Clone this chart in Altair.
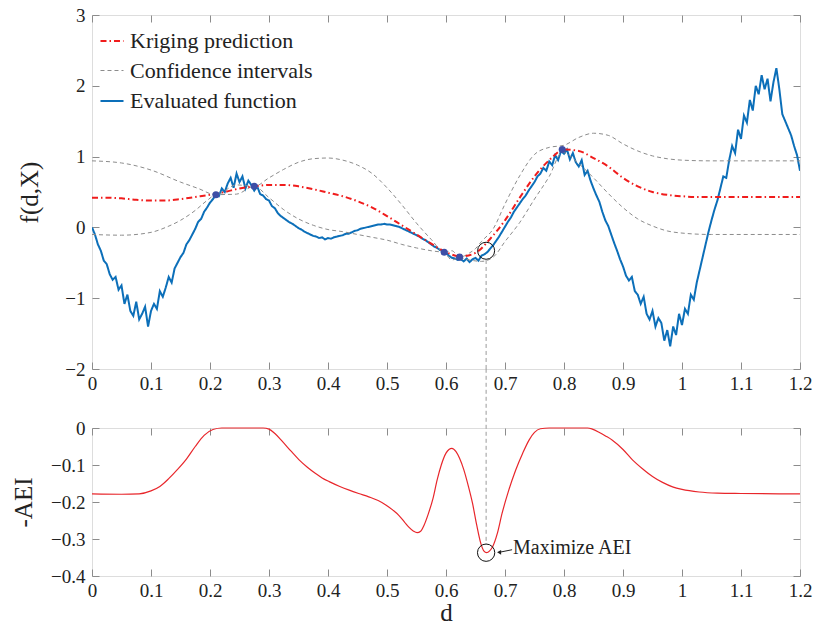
import altair as alt
import pandas as pd

FONT = "Liberation Serif"

# ---------------- data ----------------
x_ticks = [0, 0.1, 0.2, 0.3, 0.4, 0.5, 0.6, 0.7, 0.8, 0.9, 1.0, 1.1, 1.2]
y_ticks_top = [-2, -1, 0, 1, 2, 3]
y_ticks_bottom = [-0.4, -0.3, -0.2, -0.1, 0]

series_names = ["Kriging prediction", "Confidence intervals", "Evaluated function"]
series_colors = ["#f01c1c", "#8c8c8c", "#0c6fb9"]
series_dashes = [[6, 3, 1.5, 3], [4, 3], [1, 0]]
series_widths = [2.0, 1.0, 2.0]

# evaluated (noisy) function, sampled every 0.005 from d = 0 to 1.2
eval_step = 0.005
eval_values = [
    0.00, -0.10, -0.24, -0.33, -0.47, -0.52, -0.66, -0.74, -0.70, -0.88,
    -0.82, -1.08, -0.95, -1.18, -1.25, -1.05, -1.30, -1.22, -1.12, -1.40,
    -1.18, -1.08, -1.15, -0.90, -0.98, -0.85, -0.70, -0.78, -0.58, -0.50,
    -0.42, -0.36, -0.24, -0.18, -0.10, -0.02, 0.08, 0.12, 0.22, 0.28,
    0.35, 0.40, 0.46, 0.44, 0.55, 0.50, 0.62, 0.70, 0.56, 0.76,
    0.64, 0.72, 0.55, 0.66, 0.60, 0.52, 0.58, 0.47, 0.45, 0.40,
    0.38, 0.30, 0.27, 0.20, 0.16, 0.13, 0.10, 0.07, 0.05, 0.02,
    -0.01, -0.03, -0.06, -0.08, -0.10, -0.12, -0.13, -0.15, -0.14, -0.17,
    -0.15, -0.16, -0.14, -0.13, -0.12, -0.11, -0.09, -0.09, -0.07, -0.05,
    -0.04, -0.02, -0.01, 0.00, 0.01, 0.02, 0.03, 0.04, 0.04, 0.05,
    0.04, 0.04, 0.03, 0.02, 0.01, -0.01, -0.03, -0.05, -0.07, -0.09,
    -0.11, -0.13, -0.16, -0.18, -0.21, -0.24, -0.27, -0.29, -0.32, -0.34,
    -0.36, -0.40, -0.43, -0.44, -0.46, -0.45, -0.48, -0.44, -0.49, -0.45,
    -0.43, -0.47, -0.40, -0.38, -0.35, -0.30, -0.25, -0.19, -0.13, -0.06,
    0.01, 0.08, 0.14, 0.22, 0.28, 0.34, 0.40, 0.45, 0.52, 0.58,
    0.64, 0.72, 0.76, 0.84, 0.80, 0.93, 0.88, 1.02, 0.95, 1.08,
    1.04, 1.10, 0.96, 1.05, 0.92, 0.86, 0.95, 0.74, 0.80, 0.66,
    0.55, 0.45, 0.36, 0.22, 0.10, 0.02, -0.10, -0.22, -0.33, -0.45,
    -0.55, -0.68, -0.75, -0.70, -0.90, -0.95, -1.08, -0.98, -1.22, -1.30,
    -1.18, -1.40, -1.28, -1.35, -1.60, -1.45, -1.68, -1.40, -1.52, -1.22,
    -1.38, -1.15, -1.22, -0.95, -1.02, -0.78, -0.60, -0.42, -0.24, -0.06,
    0.10, 0.25, 0.38, 0.55, 0.72, 0.70, 0.95, 1.15, 1.05, 1.38,
    1.25, 1.58, 1.48, 1.80, 1.65, 2.00, 1.88, 2.15, 1.95, 2.10,
    1.78, 2.05, 2.25, 1.95, 1.60, 1.50, 1.40, 1.30, 1.15, 1.02,
    0.80,
]

krig_d = [0.0, 0.025, 0.05, 0.075, 0.1, 0.125, 0.15, 0.175, 0.2, 0.225, 0.25, 0.275,
          0.3, 0.325, 0.35, 0.375, 0.4, 0.425, 0.45, 0.475, 0.5, 0.525, 0.55, 0.575,
          0.6, 0.625, 0.65, 0.675, 0.7, 0.725, 0.75, 0.775, 0.8, 0.825, 0.85, 0.875,
          0.9, 0.925, 0.95, 0.975, 1.0, 1.025, 1.05, 1.1, 1.15, 1.2]
krig_v = [0.42, 0.42, 0.41, 0.39, 0.38, 0.38, 0.40, 0.43, 0.46, 0.50, 0.55, 0.58,
          0.60, 0.60, 0.58, 0.54, 0.49, 0.44, 0.37, 0.28, 0.16, 0.03, -0.10, -0.23,
          -0.35, -0.41, -0.36, -0.16, 0.10, 0.42, 0.72, 0.95, 1.10, 1.08, 0.98, 0.86,
          0.70, 0.58, 0.50, 0.46, 0.44, 0.43, 0.43, 0.43, 0.43, 0.43]

upper_d = [0.0, 0.05, 0.1, 0.15, 0.18, 0.21, 0.245, 0.275, 0.3, 0.325, 0.35, 0.375,
           0.4, 0.425, 0.45, 0.475, 0.5, 0.525, 0.55, 0.575, 0.597, 0.61, 0.623, 0.64,
           0.65, 0.66, 0.68, 0.7, 0.725, 0.75, 0.775, 0.8, 0.825, 0.85, 0.875, 0.9,
           0.925, 0.95, 0.975, 1.0, 1.05, 1.2]
upper_v = [0.94, 0.91, 0.81, 0.64, 0.55, 0.46, 0.60, 0.58, 0.70, 0.82, 0.92, 0.97,
           0.98, 0.95, 0.88, 0.76, 0.56, 0.32, 0.06, -0.17, -0.35, -0.33, -0.42, -0.36,
           -0.30, -0.20, -0.02, 0.33, 0.73, 1.03, 1.13, 1.16, 1.27, 1.33, 1.30, 1.18,
           1.08, 1.01, 0.97, 0.95, 0.94, 0.94]

lower_d = [0.0, 0.05, 0.1, 0.125, 0.15, 0.175, 0.195, 0.21, 0.245, 0.275, 0.3, 0.325,
           0.35, 0.375, 0.4, 0.425, 0.45, 0.475, 0.5, 0.525, 0.55, 0.575, 0.597, 0.61,
           0.623, 0.64, 0.66, 0.68, 0.7, 0.725, 0.75, 0.775, 0.797, 0.825, 0.85, 0.875,
           0.9, 0.925, 0.95, 0.975, 1.0, 1.05, 1.2]
lower_v = [-0.10, -0.11, -0.07, 0.00, 0.10, 0.24, 0.38, 0.46, 0.47, 0.58, 0.42, 0.25,
           0.12, 0.03, -0.03, -0.06, -0.10, -0.14, -0.18, -0.24, -0.29, -0.33, -0.36, -0.46,
           -0.43, -0.46, -0.48, -0.42, -0.20, 0.07, 0.40, 0.72, 1.06, 0.90, 0.70, 0.48,
           0.28, 0.12, 0.02, -0.05, -0.08, -0.10, -0.10]

obs_d = [0.21, 0.275, 0.597, 0.623, 0.797]
obs_v = [0.46, 0.58, -0.35, -0.42, 1.10]

aei_d = [0.0, 0.05, 0.08, 0.1, 0.115, 0.13, 0.145, 0.16, 0.175, 0.19, 0.205, 0.22,
         0.29, 0.3, 0.31, 0.323, 0.337, 0.351, 0.365, 0.379, 0.39, 0.402, 0.42, 0.436,
         0.452, 0.469, 0.485, 0.498, 0.51, 0.52, 0.53, 0.537, 0.545, 0.551, 0.557, 0.563,
         0.57, 0.578, 0.585, 0.592, 0.6, 0.605, 0.61, 0.617, 0.623, 0.63, 0.638, 0.645,
         0.652, 0.659, 0.664, 0.669, 0.674, 0.679, 0.687, 0.695, 0.706, 0.718, 0.73, 0.741,
         0.75, 0.76, 0.775, 0.84, 0.848, 0.86, 0.871, 0.882, 0.9, 0.916, 0.933, 0.95,
         0.967, 0.984, 1.0, 1.029, 1.06, 1.1, 1.2]
aei_v = [-0.178, -0.179, -0.178, -0.170, -0.158, -0.137, -0.112, -0.084, -0.050, -0.020, -0.004, 0.0,
         0.0, -0.003, -0.015, -0.037, -0.062, -0.086, -0.106, -0.123, -0.135, -0.145, -0.158, -0.168,
         -0.177, -0.186, -0.196, -0.208, -0.222, -0.236, -0.255, -0.268, -0.279, -0.283, -0.279, -0.262,
         -0.232, -0.190, -0.140, -0.100, -0.068, -0.058, -0.055, -0.064, -0.082, -0.112, -0.158, -0.204,
         -0.262, -0.312, -0.332, -0.337, -0.332, -0.321, -0.285, -0.231, -0.170, -0.114, -0.068, -0.032,
         -0.012, -0.002, 0.0, 0.0, -0.003, -0.012, -0.022, -0.033, -0.058, -0.086, -0.110, -0.131,
         -0.147, -0.159, -0.166, -0.173, -0.176, -0.177, -0.178]

select_d = 0.668
select_top_v = -0.33
select_top_line = [-0.46, -2.0]
select_bottom_v = -0.337
select_bottom_line = [0.16, -0.315]
note_text = "Maximize AEI"
note_d, note_v = 0.7136, -0.324
arrow_d = [0.712, 0.690]
arrow_v = [-0.329, -0.336]

# ---------------- frames ----------------
df_eval = pd.DataFrame({"d": [round(i * eval_step, 3) for i in range(len(eval_values))],
                        "v": eval_values, "series": series_names[2]})
df_krig = pd.DataFrame({"d": krig_d, "v": krig_v, "series": series_names[0]})
df_ci = pd.concat([
    pd.DataFrame({"d": upper_d, "v": upper_v, "part": "upper"}),
    pd.DataFrame({"d": lower_d, "v": lower_v, "part": "lower"}),
])
df_ci["series"] = series_names[1]
df_obs = pd.DataFrame({"d": obs_d, "v": obs_v})
df_sel_top = pd.DataFrame({"d": [select_d], "v": [select_top_v],
                           "y1": [select_top_line[0]], "y2": [select_top_line[1]]})
df_sel_bot = pd.DataFrame({"d": [select_d], "v": [select_bottom_v],
                           "y1": [select_bottom_line[0]], "y2": [select_bottom_line[1]]})
df_note = pd.DataFrame({"d": [note_d], "v": [note_v], "t": [note_text]})
df_arrow = pd.DataFrame({"d": arrow_d, "v": arrow_v})
df_head = df_arrow.iloc[[1]]
df_aei = pd.DataFrame({"d": aei_d, "v": aei_v})

# ---------------- scales / axes ----------------
xs = alt.Scale(domain=[0, 1.2], nice=False, zero=False)
ys_top = alt.Scale(domain=[-2, 3], nice=False, zero=False)
ys_bot = alt.Scale(domain=[-0.4, 0], nice=False, zero=False)

color_scale = alt.Scale(domain=series_names, range=series_colors)
dash_scale = alt.Scale(domain=series_names, range=series_dashes)
width_scale = alt.Scale(type="ordinal", domain=series_names, range=series_widths)

legend = alt.Legend(orient="none", legendX=7, legendY=13, symbolType="stroke",
                    symbolSize=530, labelFont=FONT, labelFontSize=22, labelColor="#222",
                    labelOffset=5, rowPadding=6, padding=0, labelLimit=400)


def series_enc():
    return dict(
        color=alt.Color("series:N", scale=color_scale, legend=legend, title=None),
        strokeDash=alt.StrokeDash("series:N", scale=dash_scale, legend=legend, title=None),
        strokeWidth=alt.StrokeWidth("series:N", scale=width_scale, legend=legend, title=None),
    )


def label_axis(orient, values, title=None, title_pad=0):
    kw = dict(orient=orient, values=values, format="~g", ticks=False, domain=False,
              grid=False, labelFont=FONT, labelFontSize=19, labelColor="#222",
              labelFlush=False, labelOverlap=False,
              labelPadding=5 if orient == "bottom" else 7)
    if title is not None:
        kw.update(title=title, titleFont=FONT, titleFontSize=25, titleFontWeight="normal",
                  titleColor="#222", titlePadding=title_pad)
    else:
        kw.update(title=None)
    return alt.Axis(**kw)


def tick_axis(orient, values):
    return alt.Axis(orient=orient, values=values, labels=False, domain=False, grid=False,
                    ticks=True, tickSize=7, tickColor="#8c8c8c", tickWidth=1, offset=-7,
                    title=None)


# ---------------- top panel ----------------
blue = alt.Chart(df_eval).mark_line(clip=True).encode(
    x=alt.X("d:Q", scale=xs, axis=label_axis("bottom", x_ticks)),
    y=alt.Y("v:Q", scale=ys_top, axis=label_axis("left", y_ticks_top, "f(d,X)", 22)),
    **series_enc(),
)
ci = alt.Chart(df_ci).mark_line(clip=True, interpolate="monotone").encode(
    x=alt.X("d:Q", scale=xs, axis=tick_axis("bottom", x_ticks)),
    y=alt.Y("v:Q", scale=ys_top, axis=tick_axis("left", y_ticks_top)),
    detail="part:N",
    **series_enc(),
)
krig = alt.Chart(df_krig).mark_line(clip=True, interpolate="monotone").encode(
    x=alt.X("d:Q", scale=xs, axis=tick_axis("top", x_ticks)),
    y=alt.Y("v:Q", scale=ys_top, axis=tick_axis("right", y_ticks_top)),
    **series_enc(),
)
dots = alt.Chart(df_obs).mark_circle(size=50, color="#3d4ea6", opacity=1).encode(
    x=alt.X("d:Q", scale=xs, axis=None),
    y=alt.Y("v:Q", scale=ys_top, axis=None),
)
vline_top = alt.Chart(df_sel_top).mark_rule(color="#9a9a9a", strokeDash=[4, 3], strokeWidth=1).encode(
    x=alt.X("d:Q", scale=xs, axis=None),
    y=alt.Y("y1:Q", scale=ys_top, axis=None),
    y2="y2:Q",
)
circ_top = alt.Chart(df_sel_top).mark_point(shape="circle", filled=False, color="#111",
                                            strokeWidth=1, size=290, opacity=1).encode(
    x=alt.X("d:Q", scale=xs, axis=None),
    y=alt.Y("v:Q", scale=ys_top, axis=None),
)

top = alt.layer(blue, ci, krig, dots, vline_top, circ_top).resolve_axis(
    x="independent", y="independent"
).properties(width=708, height=354)

# ---------------- bottom panel ----------------
aei = alt.Chart(df_aei).mark_line(color="#e8262b", strokeWidth=1.2, interpolate="monotone").encode(
    x=alt.X("d:Q", scale=xs, axis=label_axis("bottom", x_ticks, "d", 0)),
    y=alt.Y("v:Q", scale=ys_bot, axis=label_axis("left", y_ticks_bottom, "-AEI", 14)),
)
vline_bot = alt.Chart(df_sel_bot).mark_rule(color="#9a9a9a", strokeDash=[4, 3], strokeWidth=1,
                                            clip=False).encode(
    x=alt.X("d:Q", scale=xs, axis=tick_axis("bottom", x_ticks)),
    y=alt.Y("y1:Q", scale=ys_bot, axis=tick_axis("left", y_ticks_bottom)),
    y2="y2:Q",
)
circ_bot = alt.Chart(df_sel_bot).mark_point(shape="circle", filled=False, color="#111",
                                            strokeWidth=1, size=300, opacity=1).encode(
    x=alt.X("d:Q", scale=xs, axis=tick_axis("top", x_ticks)),
    y=alt.Y("v:Q", scale=ys_bot, axis=tick_axis("right", y_ticks_bottom)),
)
arrow = alt.Chart(df_arrow).mark_line(color="#222", strokeWidth=1).encode(
    x=alt.X("d:Q", scale=xs, axis=None),
    y=alt.Y("v:Q", scale=ys_bot, axis=None),
)
head = alt.Chart(df_head).mark_point(shape="triangle-left", filled=True, color="#222",
                                     size=22, opacity=1).encode(
    x=alt.X("d:Q", scale=xs, axis=None),
    y=alt.Y("v:Q", scale=ys_bot, axis=None),
)
note = alt.Chart(df_note).mark_text(align="left", baseline="middle", font=FONT,
                                    fontSize=20, color="#222").encode(
    x=alt.X("d:Q", scale=xs, axis=None),
    y=alt.Y("v:Q", scale=ys_bot, axis=None),
    text="t:N",
)

bottom = alt.layer(aei, vline_bot, circ_bot, arrow, head, note).resolve_axis(
    x="independent", y="independent"
).properties(width=708, height=148)

chart = alt.vconcat(top, bottom, spacing=59, bounds="flush").resolve_scale(
    color="independent", strokeDash="independent", strokeWidth="independent"
).resolve_legend(
    color="independent", strokeDash="independent", strokeWidth="independent"
).properties(
    padding={"left": 11, "top": 5, "right": 0, "bottom": 0}
).configure_view(stroke="#333", strokeWidth=1.1).configure(background="white")

chart.save("out.html", embed_options={"renderer": "svg", "actions": False})
